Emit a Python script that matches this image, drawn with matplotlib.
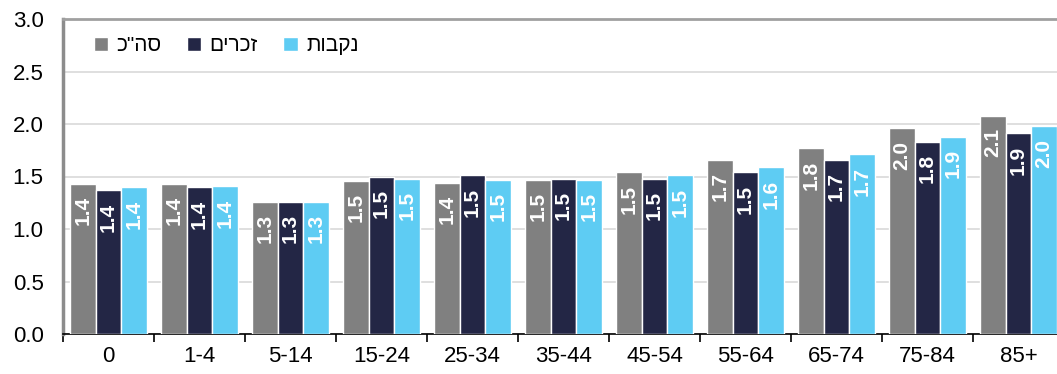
import numpy as np
import matplotlib.pyplot as plt

plt.rcParams['font.family'] = ['Liberation Sans', 'DejaVu Sans']

categories = ['0', '1-4', '5-14', '15-24', '25-34', '35-44', '45-54', '55-64', '65-74', '75-84', '85+']
total = [1.43, 1.43, 1.26, 1.46, 1.44, 1.47, 1.54, 1.66, 1.77, 1.96, 2.08]
males = [1.37, 1.40, 1.26, 1.50, 1.51, 1.48, 1.48, 1.54, 1.66, 1.83, 1.91]
females = [1.40, 1.41, 1.26, 1.48, 1.47, 1.47, 1.51, 1.59, 1.71, 1.88, 1.98]
# hebrew labels reversed for left-to-right drawing
labels = ['כ"הס', 'םירכז', 'תובקנ']
colors = ['#808080', '#232645', '#5ECCF3']

fig = plt.figure(figsize=(10.57, 3.74), dpi=100)
ax = fig.add_axes([63 / 1057, 1 - 334 / 374, 1001 / 1057, 315 / 374])

x = np.arange(len(categories))
w = 0.28
for i, (vals, c, lab) in enumerate(zip([total, males, females], colors, labels)):
    bars = ax.bar(x + (i - 1) * w, vals, w, color=c, edgecolor='white', linewidth=1, label=lab, zorder=3)
    for b, v in zip(bars, vals):
        ax.annotate('%.1f' % v, (b.get_x() + b.get_width() / 2, v), xytext=(0, -9),
                    textcoords='offset points', rotation=90, ha='center', va='top',
                    color='white', fontweight='bold', fontsize=15, zorder=4)

ax.set_ylim(0, 3.0)
ax.set_xlim(-0.5, len(categories) - 0.5)
ax.set_yticks(np.arange(0, 3.01, 0.5))
ax.set_yticklabels(['%.1f' % t for t in np.arange(0, 3.01, 0.5)], fontsize=16)
ax.tick_params(axis='y', length=0, pad=14)
ax.yaxis.grid(True, color='#D9D9D9', linewidth=1.2, zorder=0)

ax.set_xticks(np.arange(-0.5, len(categories), 1))
ax.set_xticklabels([])
ax.tick_params(axis='x', which='major', length=6, width=1.2, direction='out', color='black')
ax.set_xticks(x, minor=True)
ax.set_xticklabels(categories, minor=True, fontsize=16)
ax.tick_params(axis='x', which='minor', length=0, pad=9)

ax.spines['bottom'].set_color('black')
ax.spines['bottom'].set_linewidth(1.2)
ax.spines['left'].set_color('#8C8C8C')
ax.spines['left'].set_linewidth(2.5)
ax.spines['top'].set_color('#A0A0A0')
ax.spines['top'].set_linewidth(2)
ax.spines['right'].set_visible(False)

ax.legend(loc='upper left', bbox_to_anchor=(0.012, 1.005), ncol=3, frameon=False, fontsize=15,
          handlelength=0.7, handleheight=0.7, handletextpad=0.4, columnspacing=1.2)

fig.savefig('out.png', dpi=100)
